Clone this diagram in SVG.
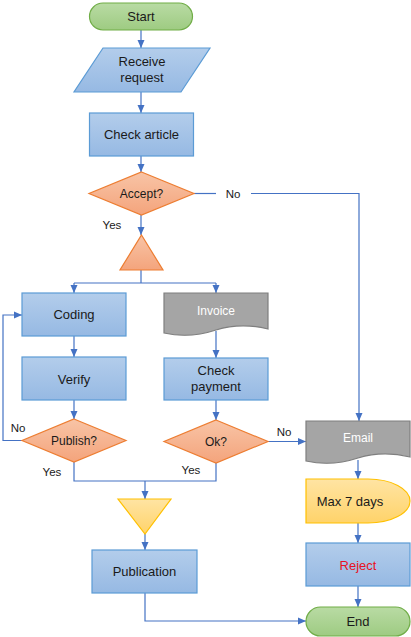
<svg xmlns="http://www.w3.org/2000/svg" width="411" height="637" viewBox="0 0 411 637">
<defs>
<linearGradient id="gBlue" x1="0" y1="0" x2="0" y2="1"><stop offset="0" stop-color="#b3cdeb"/><stop offset="1" stop-color="#96b9e3"/></linearGradient>
<linearGradient id="gOrange" x1="0" y1="0" x2="0" y2="1"><stop offset="0" stop-color="#f8c4a6"/><stop offset="1" stop-color="#f4a47c"/></linearGradient>
<linearGradient id="gGreen" x1="0" y1="0" x2="0" y2="1"><stop offset="0" stop-color="#b9dba4"/><stop offset="1" stop-color="#9ecb82"/></linearGradient>
<linearGradient id="gYellow" x1="0" y1="0" x2="0" y2="1"><stop offset="0" stop-color="#ffe4a3"/><stop offset="1" stop-color="#ffd36a"/></linearGradient>
<marker id="arr" markerUnits="userSpaceOnUse" markerWidth="8" markerHeight="8" viewBox="0 0 8 8" refX="8" refY="4" orient="auto"><path d="M0,0.5 L8,4 L0,7.5 Z" fill="#4472c4"/></marker>
</defs>
<style>
.blue{fill:url(#gBlue);stroke:#5b9bd5;stroke-width:1.2}
.orange{fill:url(#gOrange);stroke:#ed7d31;stroke-width:1.2}
.green{fill:url(#gGreen);stroke:#70ad47;stroke-width:1.2}
.yellow{fill:url(#gYellow);stroke:#ffc000;stroke-width:1.2}
.gray{fill:#a5a5a5;stroke:#7f7f7f;stroke-width:1.2}
text{font-family:"Liberation Sans",Arial,sans-serif;fill:#1a1a1a;text-anchor:middle}
.t13{font-size:13px}
.t12{font-size:12px}
.lbl{font-size:11.5px}
.wt{fill:#ffffff;font-size:12px}
.conn path{fill:none;stroke:#4472c4;stroke-width:1.2}
</style>
<g class="conn">
<path d="M141,30 V48" marker-end="url(#arr)"/>
<path d="M141,92 V113" marker-end="url(#arr)"/>
<path d="M141,156 V172" marker-end="url(#arr)"/>
<path d="M141,215 V235" marker-end="url(#arr)"/>
<path d="M194,193.5 H216"/>
<path d="M251,193.5 H359 V421" marker-end="url(#arr)"/>
<path d="M141,270 V283 M74,283 H216"/>
<path d="M74,283 V293" marker-end="url(#arr)"/>
<path d="M216,283 V293" marker-end="url(#arr)"/>
<path d="M74,336 V357" marker-end="url(#arr)"/>
<path d="M74,400 V419" marker-end="url(#arr)"/>
<path d="M22,440.5 H3 V315 H22" marker-end="url(#arr)"/>
<path d="M216,331 V358" marker-end="url(#arr)"/>
<path d="M216,400 V420" marker-end="url(#arr)"/>
<path d="M268,441.5 H306" marker-end="url(#arr)"/>
<path d="M74,462 V481 H216 V463"/>
<path d="M145,481 V499" marker-end="url(#arr)"/>
<path d="M145,534 V550" marker-end="url(#arr)"/>
<path d="M145,593 V621 H306" marker-end="url(#arr)"/>
<path d="M358,460 V479" marker-end="url(#arr)"/>
<path d="M358,523 V543" marker-end="url(#arr)"/>
<path d="M358,586 V607" marker-end="url(#arr)"/>
</g>
<g id="labels">
<text class="lbl" x="233" y="198">No</text>
<text class="lbl" x="112" y="229">Yes</text>
<text class="lbl" x="18" y="432">No</text>
<text class="lbl" x="52" y="476">Yes</text>
<text class="lbl" x="191" y="474">Yes</text>
<text class="lbl" x="284" y="436">No</text>
</g>
<g id="start"><rect class="green" x="89.5" y="3" width="103" height="27" rx="13.5"/><text class="t13" x="141" y="21">Start</text></g>
<g id="receive"><path class="blue" d="M103,48 H210 L181,92 H74 Z"/><text class="t13" x="142" y="66">Receive</text><text class="t13" x="142" y="82">request</text></g>
<g id="check-article"><rect class="blue" x="89.5" y="113" width="104" height="43"/><text class="t13" x="141.5" y="139">Check article</text></g>
<g id="accept"><path class="orange" d="M141.5,172 L194,193.5 L141.5,215 L89,193.5 Z"/><text class="t12" x="141.5" y="198">Accept?</text></g>
<g id="split"><path class="orange" d="M141.5,235 L163,270 L120,270 Z"/></g>
<g id="coding"><rect class="blue" x="22" y="293" width="104" height="43"/><text class="t13" x="74" y="319">Coding</text></g>
<g id="verify"><rect class="blue" x="22" y="357" width="104" height="43"/><text class="t13" x="74" y="384">Verify</text></g>
<g id="publish"><path class="orange" d="M74,419 L126,440.5 L74,462 L22,440.5 Z"/><text class="t12" x="74" y="445">Publish?</text></g>
<g id="invoice"><path class="gray" d="M164,293 H268 V329 C248,324 232,325 216,330 C198,336 182,337 164,333 Z"/><text class="wt" x="216" y="315">Invoice</text></g>
<g id="check-payment"><rect class="blue" x="164" y="358" width="104" height="42"/><text class="t13" x="216" y="375">Check</text><text class="t13" x="216" y="391">payment</text></g>
<g id="ok"><path class="orange" d="M216,420 L268,441.5 L216,463 L164,441.5 Z"/><text class="t12" x="216" y="446">Ok?</text></g>
<g id="email"><path class="gray" d="M306,421 H410 V457 C390,452 374,453 358,458 C340,464 324,465 306,461 Z"/><text class="wt" x="358" y="442">Email</text></g>
<g id="max7"><path class="yellow" d="M306,479 H368 A42,22 0 0 1 368,523 H306 Z"/><text class="t13" x="350" y="506">Max 7 days</text></g>
<g id="reject"><rect class="blue" x="306" y="543" width="104" height="43"/><text class="t13" x="358" y="570" style="fill:#e81123">Reject</text></g>
<g id="end"><rect class="green" x="306" y="607" width="104" height="29" rx="14.5"/><text class="t13" x="358" y="626">End</text></g>
<g id="merge"><path class="yellow" d="M118,499 H171 L145,534 Z"/></g>
<g id="publication"><rect class="blue" x="92" y="550" width="105" height="43"/><text class="t13" x="144.5" y="576">Publication</text></g>
</svg>
